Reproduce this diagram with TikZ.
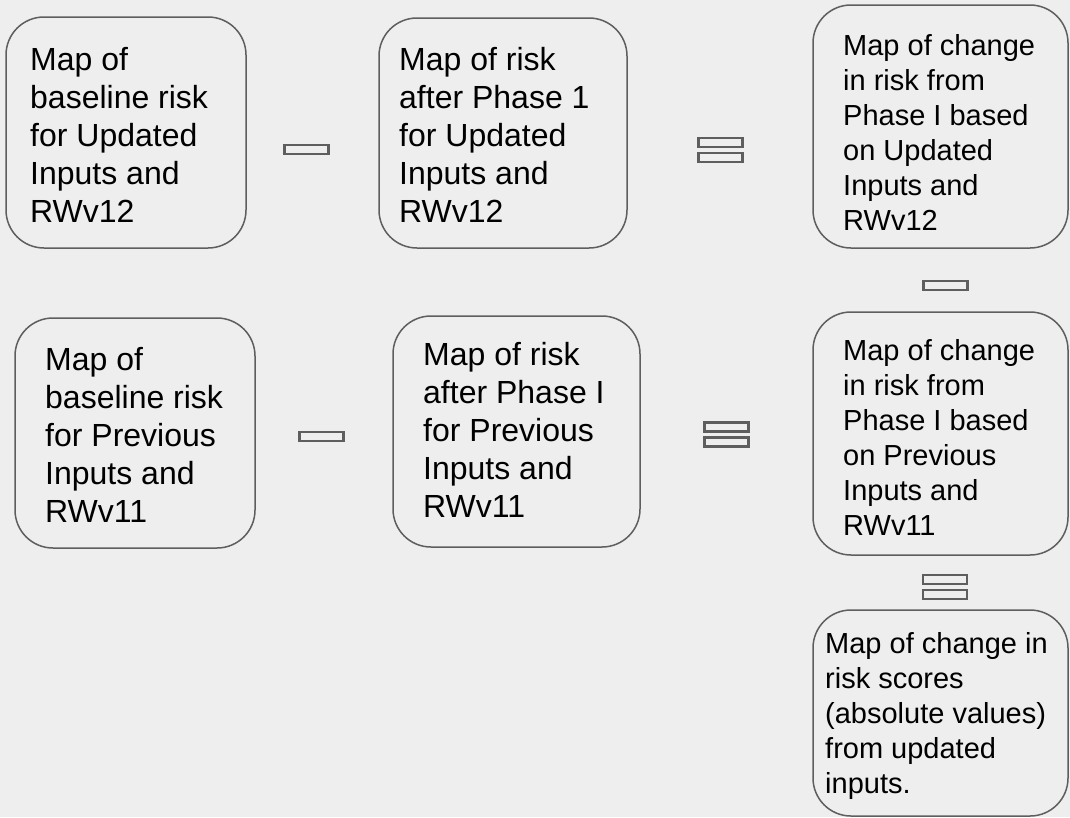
\documentclass[tikz,border=0pt]{standalone}
\usepackage{fontspec}
\setmainfont{Liberation Sans}
\definecolor{bg}{HTML}{EEEEEE}
\definecolor{lc}{HTML}{5E5E5E}
\newcommand\lns[2]{\vtop{\baselineskip=#1pt\lineskiplimit=-1000pt\lineskip=0pt #2}}
\tikzset{
  rbox/.style={draw=lc, line width=1.5pt, rounded corners=38pt, inner sep=0pt},
  bigtxt/.style={font=\fontsize{32}{38}\selectfont, anchor=base west, inner sep=0pt, text=black},
  smtxt/.style={font=\fontsize{29}{35}\selectfont, anchor=base west, inner sep=0pt, text=black},
  opbar/.style={draw=lc, line width=2.5pt, inner sep=0pt, minimum width=44pt, minimum height=9pt}
}
\begin{document}
\begin{tikzpicture}[x=1pt,y=-1pt]
\useasboundingbox (0,0) rectangle (1070,817);
\fill[bg] (0,0) rectangle (1070,817);
% boxes
\node[rbox, minimum width=240pt, minimum height=231pt] (A) at (126,132.5) {};
\node[rbox, minimum width=248pt, minimum height=230pt] (B) at (503,133) {};
\node[rbox, minimum width=255pt, minimum height=243pt] (C) at (940.5,126.5) {};
\node[rbox, minimum width=240pt, minimum height=230pt] (D) at (135,433) {};
\node[rbox, minimum width=247pt, minimum height=231pt] (E) at (516.5,431.5) {};
\node[rbox, minimum width=255pt, minimum height=243pt] (F) at (940.5,433.5) {};
\node[rbox, minimum width=255pt, minimum height=206pt] (G) at (940.5,713) {};
% texts
\node[bigtxt] (tA) at (30,70) {\lns{38}{\hbox{Map of}\hbox{baseline risk}\hbox{for Updated}\hbox{Inputs and}\hbox{RWv12}}};
\node[bigtxt] (tB) at (399,70) {\lns{38}{\hbox{Map of risk}\hbox{after Phase 1}\hbox{for Updated}\hbox{Inputs and}\hbox{RWv12}}};
\node[smtxt] (tC) at (843,55) {\lns{35}{\hbox{Map of change}\hbox{in risk from}\hbox{Phase I based}\hbox{on Updated}\hbox{Inputs and}\hbox{RWv12}}};
\node[bigtxt] (tD) at (45,370) {\lns{38}{\hbox{Map of}\hbox{baseline risk}\hbox{for Previous}\hbox{Inputs and}\hbox{RWv11}}};
\node[bigtxt] (tE) at (423,365) {\lns{38}{\hbox{Map of risk}\hbox{after Phase I}\hbox{for Previous}\hbox{Inputs and}\hbox{RWv11}}};
\node[smtxt] (tF) at (843,360) {\lns{35}{\hbox{Map of change}\hbox{in risk from}\hbox{Phase I based}\hbox{on Previous}\hbox{Inputs and}\hbox{RWv11}}};
\node[smtxt] (tG) at (825,653) {\lns{35}{\hbox{Map of change in}\hbox{risk scores}\hbox{(absolute values)}\hbox{from updated}\hbox{inputs.}}};
% minus signs
\node[opbar] (m1) at (306.5,149.5) {};
\node[opbar] (m2) at (945.5,285.5) {};
\node[opbar] (m3) at (321.5,436.5) {};
% equals signs
\node[opbar] (e1a) at (720.5,142.5) {};
\node[opbar] (e1b) at (720.5,157.5) {};
\node[opbar] (e2a) at (726.5,427) {};
\node[opbar] (e2b) at (726.5,442) {};
\node[opbar] (e3a) at (945,579.5) {};
\node[opbar] (e3b) at (945,594.5) {};
\end{tikzpicture}
\end{document}
